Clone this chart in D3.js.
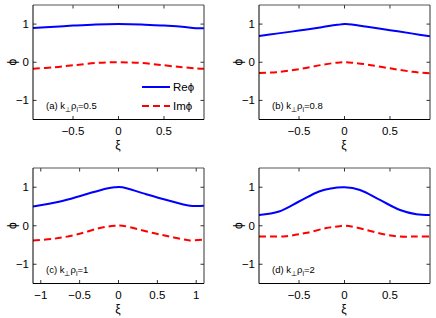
<!DOCTYPE html>
<html><head><meta charset="utf-8">
<script src="https://cdn.jsdelivr.net/npm/d3@7"></script>
<style>body{margin:0;background:#fff}svg{display:block}text{font-family:"Liberation Sans",Arial,sans-serif}</style>
</head><body>
<script>
// ---- data ----
const panelLabels = ["(a)", "(b)", "(c)", "(d)"];
const kValues = ["0.5", "0.8", "1", "2"];
const xDomains = [[-0.94, 0.94], [-0.94, 0.94], [-1.1, 1.1], [-0.94, 0.94]];
const xTicksList = [[-0.5, 0, 0.5], [-0.5, 0, 0.5], [-1, -0.5, 0, 0.5, 1], [-0.5, 0, 0.5]];
const yTicks = [-1, 0, 1];
const yDomain = [-1.5, 1.5];

const xiA = [-0.94, -0.7, -0.5, -0.25, 0, 0.25, 0.5, 0.7, 0.85, 0.94];
const reA = [0.90, 0.93, 0.96, 0.99, 1.0, 0.99, 0.96, 0.93, 0.89, 0.89];
const imA = [-0.17, -0.13, -0.08, -0.02, 0, -0.02, -0.08, -0.13, -0.16, -0.17];

const xiB = [-0.94, -0.75, -0.5, -0.25, -0.08, 0, 0.08, 0.25, 0.5, 0.75, 0.94];
const reB = [0.69, 0.75, 0.83, 0.92, 0.98, 1.0, 0.99, 0.93, 0.84, 0.75, 0.68];
const imB = [-0.28, -0.26, -0.18, -0.07, -0.01, 0, -0.01, -0.06, -0.16, -0.25, -0.29];

const xiC = [-1.1, -0.75, -0.45, -0.15, -0.05, 0.05, 0.32, 0.62, 0.92, 1.1];
const reC = [0.50, 0.63, 0.80, 0.97, 1.0, 1.0, 0.84, 0.67, 0.52, 0.52];
const imXiC = [-1.1, -0.84, -0.54, -0.24, -0.05, 0.05, 0.45, 0.7, 0.92, 1.1];
const imC = [-0.38, -0.34, -0.23, -0.06, 0, 0, -0.19, -0.30, -0.38, -0.36];

const xiD = [-0.94, -0.72, -0.5, -0.28, -0.15, 0, 0.17, 0.39, 0.61, 0.79, 0.94];
const reD = [0.28, 0.37, 0.63, 0.89, 0.97, 1.0, 0.93, 0.67, 0.41, 0.30, 0.28];
const imXiD = [-0.94, -0.65, -0.43, -0.2, -0.08, 0, 0.12, 0.43, 0.61, 0.79, 0.94];
const imD = [-0.28, -0.27, -0.19, -0.06, -0.02, 0, -0.04, -0.22, -0.28, -0.28, -0.28];

const reXis = [xiA, xiB, xiC, xiD];
const imXis = [xiA, xiB, imXiC, imXiD];
const res = [reA, reB, reC, reD];
const ims = [imA, imB, imC, imD];
const legendLabels = ["Re\u03d5", "Im\u03d5"];

// ---- layout ----
const W = 436, H = 318;
const frames = [
  {x0: 33, x1: 204, y0: 5, y1: 119.5},
  {x0: 259, x1: 430, y0: 5, y1: 119.5},
  {x0: 33, x1: 204, y0: 168, y1: 283.5},
  {x0: 259, x1: 430, y0: 168, y1: 283.5}
];

const svg = d3.select("body").append("svg").attr("width", W).attr("height", H);

frames.forEach((f, i) => {
  const x = d3.scaleLinear().domain(xDomains[i]).range([f.x0, f.x1]);
  const y = d3.scaleLinear().domain(yDomain).range([f.y1, f.y0]);
  const g = svg.append("g");
  const tl = 3.5;

  const xt = xTicksList[i];
  g.selectAll(null).data(xt).enter().append("line")
    .attr("x1", d => x(d)).attr("x2", d => x(d)).attr("y1", f.y1).attr("y2", f.y1 - tl)
    .attr("stroke", "#000").attr("stroke-width", 0.8);
  g.selectAll(null).data(xt).enter().append("line")
    .attr("x1", d => x(d)).attr("x2", d => x(d)).attr("y1", f.y0).attr("y2", f.y0 + tl)
    .attr("stroke", "#000").attr("stroke-width", 0.8);
  g.selectAll(null).data(yTicks).enter().append("line")
    .attr("y1", d => y(d)).attr("y2", d => y(d)).attr("x1", f.x0).attr("x2", f.x0 + tl)
    .attr("stroke", "#000").attr("stroke-width", 0.8);
  g.selectAll(null).data(yTicks).enter().append("line")
    .attr("y1", d => y(d)).attr("y2", d => y(d)).attr("x1", f.x1).attr("x2", f.x1 - tl)
    .attr("stroke", "#000").attr("stroke-width", 0.8);

  const fmt = d => (d < 0 ? "\u2212" : "") + String(Math.abs(d));
  g.selectAll(null).data(xt).enter().append("text")
    .attr("x", d => x(d)).attr("y", f.y1 + 15).attr("text-anchor", "middle")
    .attr("font-size", 11.5).text(fmt);
  g.selectAll(null).data(yTicks).enter().append("text")
    .attr("x", f.x0 - 4).attr("y", d => y(d) + 4).attr("text-anchor", "end")
    .attr("font-size", 11.5).text(fmt);

  g.append("text").attr("x", (f.x0 + f.x1) / 2 - 0.5).attr("y", f.y1 + 29)
    .attr("text-anchor", "middle").attr("font-size", 12).text("\u03be");
  g.append("text").attr("transform", `translate(${f.x0 - 21},${y(0)}) rotate(-90)`)
    .attr("text-anchor", "middle").attr("dy", 4).attr("font-size", 12).text("\u03d5");

  const rePts = reXis[i].map((d, j) => [d, res[i][j]]);
  const imPts = imXis[i].map((d, j) => [d, ims[i][j]]);
  const clipId = "clip" + i;
  svg.append("clipPath").attr("id", clipId).append("rect")
    .attr("x", f.x0).attr("y", f.y0).attr("width", f.x1 - f.x0).attr("height", f.y1 - f.y0);
  const line = d3.line().x(d => x(d[0])).y(d => y(d[1])).curve(d3.curveCatmullRom.alpha(0.5));
  g.append("path").attr("d", line(rePts)).attr("fill", "none").attr("stroke", "#0000ff")
    .attr("stroke-width", 2).attr("clip-path", `url(#${clipId})`);
  g.append("path").attr("d", line(imPts)).attr("fill", "none").attr("stroke", "#ff0000")
    .attr("stroke-width", 2).attr("stroke-dasharray", "7,4").attr("clip-path", `url(#${clipId})`);

  g.append("line").attr("x1", f.x0).attr("x2", f.x1).attr("y1", f.y0).attr("y2", f.y0).attr("stroke", "#555").attr("stroke-width", 1);
  g.append("line").attr("x1", f.x1).attr("x2", f.x1).attr("y1", f.y0).attr("y2", f.y1).attr("stroke", "#333").attr("stroke-width", 1);
  g.append("line").attr("x1", f.x0).attr("x2", f.x1).attr("y1", f.y1).attr("y2", f.y1).attr("stroke", "#000").attr("stroke-width", 1);
  g.append("line").attr("x1", f.x0).attr("x2", f.x0).attr("y1", f.y0).attr("y2", f.y1).attr("stroke", "#000").attr("stroke-width", 1);

  const t = g.append("text").attr("x", f.x0 + 13).attr("y", f.y1 - 11).attr("font-size", 9.5);
  t.append("tspan").text(panelLabels[i] + " k");
  t.append("tspan").attr("dy", 3).attr("font-size", 7).text("\u22a5");
  t.append("tspan").attr("dy", -3).text("\u03c1");
  t.append("tspan").attr("dy", 3).attr("font-size", 7).text("i");
  t.append("tspan").attr("dy", -3).text("=" + kValues[i]);

  if (i === 0) {
    const lg = g.append("g");
    const ly = [87, 106];
    lg.append("line").attr("x1", 142).attr("x2", 170).attr("y1", ly[0]).attr("y2", ly[0])
      .attr("stroke", "#0000ff").attr("stroke-width", 2);
    lg.append("line").attr("x1", 142).attr("x2", 170).attr("y1", ly[1]).attr("y2", ly[1])
      .attr("stroke", "#ff0000").attr("stroke-width", 2).attr("stroke-dasharray", "7,4");
    legendLabels.forEach((s, k) => {
      lg.append("text").attr("x", 173).attr("y", ly[k] + 4).attr("font-size", 11.5).text(s);
    });
  }
});
</script>
</body></html>
